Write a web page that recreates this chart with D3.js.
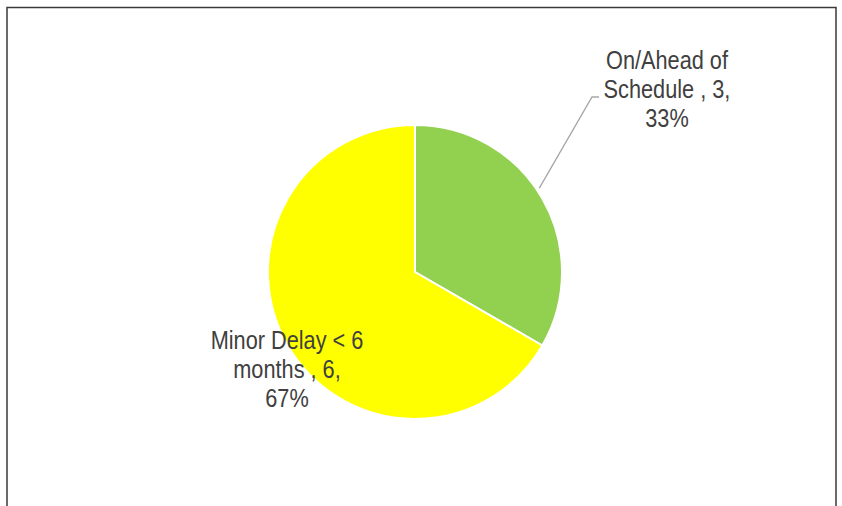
<!DOCTYPE html>
<html>
<head>
<meta charset="utf-8">
<script src="https://cdn.jsdelivr.net/npm/d3@7"></script>
<style>
  body { margin: 0; background: #fff; }
  text { font-family: "Liberation Sans Narrow", "Arial Narrow", "Liberation Sans", Arial, sans-serif; }
</style>
</head>
<body>
<div id="viz"></div>
<script>
// data
var categories = ["On/Ahead of Schedule ", "Minor Delay < 6 months "];
var values = [3, 6];
var colours = ["#92D050", "#FFFF00"];
// label lines as drawn in the chart
var labelLines = [
  ["On/Ahead of", "Schedule , 3,", "33%"],
  ["Minor Delay < 6", "months , 6,", "67%"]
];

var width = 842, height = 506;
var cx = 415, cy = 272, radius = 147;

var svg = d3.select("#viz")
  .append("svg")
  .attr("width", width)
  .attr("height", height);

// chart frame (bottom runs off the picture)
svg.append("path")
  .attr("d", "M7,520 V7.5 H836 V520")
  .style("fill", "none")
  .style("stroke", "#3a3a3a")
  .style("stroke-width", 1.5);

var data = categories.map(function(c, i) { return {name: c, value: values[i], lines: labelLines[i]}; });

var pie = d3.pie().sort(null).value(function(d) { return d.value; });
var arc = d3.arc().innerRadius(0).outerRadius(radius);
var arcs = pie(data);

var g = svg.append("g").attr("transform", "translate(" + cx + "," + cy + ")");

g.selectAll("path.slice").data(arcs).enter()
  .append("path")
  .attr("class", "slice")
  .attr("d", arc)
  .style("fill", function(d, i) { return colours[i]; })
  .style("stroke", "#fff")
  .style("stroke-width", 2);

// label positions, relative to the centre (first baseline)
var labelPos = [[252, -203], [-128, 77]];
var lineHeight = 29;

// leader line for the first slice
var edge = d3.arc().innerRadius(radius + 3).outerRadius(radius + 3);
var a0 = arcs[0];
var p0 = edge.centroid({startAngle: a0.startAngle, endAngle: a0.endAngle - 0.14});
g.append("polyline")
  .attr("points", [p0, [177, -175], [184, -175]].map(function(p) { return p.join(","); }).join(" "))
  .style("fill", "none")
  .style("stroke", "#a6a6a6")
  .style("stroke-width", 1.3);

// the chart uses a narrow face; squeeze the regular one to match
g.selectAll("text.lbl").data(arcs).enter()
  .append("text")
  .attr("class", "lbl")
  .attr("text-anchor", "middle")
  .attr("transform", function(d, i) { return "translate(" + labelPos[i][0] + "," + labelPos[i][1] + ") scale(0.82,1)"; })
  .style("font-size", "26.5px")
  .style("fill", "#404040")
  .each(function(d) {
    var t = d3.select(this);
    d.data.lines.forEach(function(line, j) {
      t.append("tspan")
        .attr("x", 0)
        .attr("y", j * lineHeight)
        .text(line);
    });
  });
</script>
</body>
</html>
